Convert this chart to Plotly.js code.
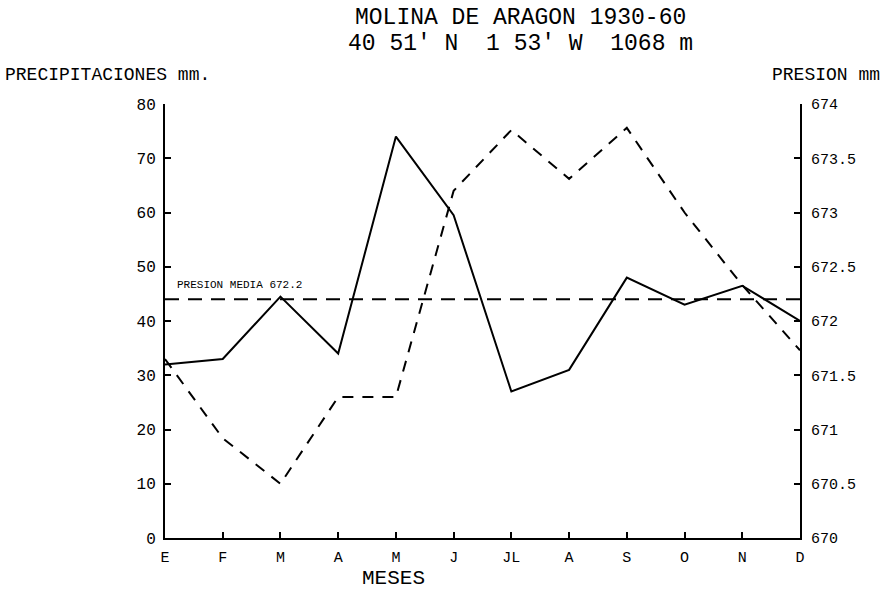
<!DOCTYPE html>
<html><head><meta charset="utf-8">
<script src="https://cdn.plot.ly/plotly-3.0.1.min.js"></script>
<style>body{margin:0;background:#fff}#c{width:884px;height:595px}</style>
</head><body><div id="c"></div>
<script>
const months = ["E","F","M","A","M","J","JL","A","S","O","N","D"];
const precip = [32, 33, 44.5, 34, 74, 59.5, 27, 31, 48, 43, 46.5, 40];
const presion = [671.65, 670.92, 670.5, 671.3, 671.3, 673.2, 673.76, 673.31, 673.78, 673.0, 672.33, 671.73];
const presionMedia = 672.2;
const leftTicks = [0,10,20,30,40,50,60,70,80];
const rightTicks = [670,670.5,671,671.5,672,672.5,673,673.5,674];

const idx = months.map((_, i) => i);
const F = "Liberation Mono, DejaVu Sans Mono, monospace";

const traces = [
  {x: idx, y: precip, type: "scatter", mode: "lines", line: {color: "#000", width: 2}, yaxis: "y", hoverinfo: "skip"},
  {x: idx, y: presion, type: "scatter", mode: "lines", line: {color: "#000", width: 2, dash: "11px,9px"}, yaxis: "y2", hoverinfo: "skip"},
  {x: [idx[0], idx[idx.length-1]], y: [presionMedia, presionMedia], type: "scatter", mode: "lines", line: {color: "#000", width: 2, dash: "14px,9px"}, yaxis: "y2", hoverinfo: "skip"}
];

const layout = {
  width: 884, height: 595,
  margin: {l: 165, r: 84, t: 104, b: 57},
  paper_bgcolor: "#fff", plot_bgcolor: "#fff",
  showlegend: false,
  font: {family: F, color: "#000"},
  xaxis: {
    range: [0, 11], tickvals: idx, ticktext: months,
    showline: true, linecolor: "#000", linewidth: 2,
    ticks: "inside", ticklen: 6, tickwidth: 2, tickcolor: "#000",
    showgrid: false, zeroline: false,
    tickfont: {size: 15, family: F}, ticklabelstandoff: 4
  },
  yaxis: {
    range: [0, 80], tickvals: leftTicks,
    showline: true, linecolor: "#000", linewidth: 2,
    ticks: "inside", ticklen: 6, tickwidth: 2, tickcolor: "#000",
    showgrid: false, zeroline: false,
    tickfont: {size: 16, family: F}, ticklabelstandoff: 4
  },
  yaxis2: {
    range: [670, 674], tickvals: rightTicks, overlaying: "y", side: "right",
    showline: true, linecolor: "#000", linewidth: 2,
    ticks: "inside", ticklen: 6, tickwidth: 2, tickcolor: "#000",
    showgrid: false, zeroline: false,
    tickfont: {size: 15, family: F}, ticklabelstandoff: 6
  },
  annotations: [
    {text: "MOLINA DE ARAGON 1930-60", xref: "paper", yref: "paper", x: 0.56, y: 1, yshift: 86, xanchor: "center", yanchor: "middle", showarrow: false, font: {size: 23, family: F}},
    {text: "40 51' N  1 53' W  1068 m", xref: "paper", yref: "paper", x: 0.56, y: 1, yshift: 60, xanchor: "center", yanchor: "middle", showarrow: false, font: {size: 23, family: F}},
    {text: "PRECIPITACIONES mm.", xref: "paper", yref: "paper", x: 0, xshift: -162, y: 1, yshift: 29, xanchor: "left", yanchor: "middle", showarrow: false, font: {size: 18, family: F}},
    {text: "PRESION mm", xref: "paper", yref: "paper", x: 1, xshift: 82, y: 1, yshift: 29, xanchor: "right", yanchor: "middle", showarrow: false, font: {size: 18, family: F}},
    {text: "MESES", xref: "paper", yref: "paper", x: 0.36, y: 0, yshift: -40, xanchor: "center", yanchor: "middle", showarrow: false, font: {size: 21, family: F}},
    {text: "PRESION MEDIA " + presionMedia.toFixed(1), xref: "paper", yref: "y2", x: 0, xshift: 10, y: presionMedia, yshift: 14, xanchor: "left", yanchor: "middle", showarrow: false, font: {size: 11, family: F}}
  ]
};

Plotly.newPlot("c", traces, layout, {staticPlot: true, displayModeBar: false});
</script></body></html>
